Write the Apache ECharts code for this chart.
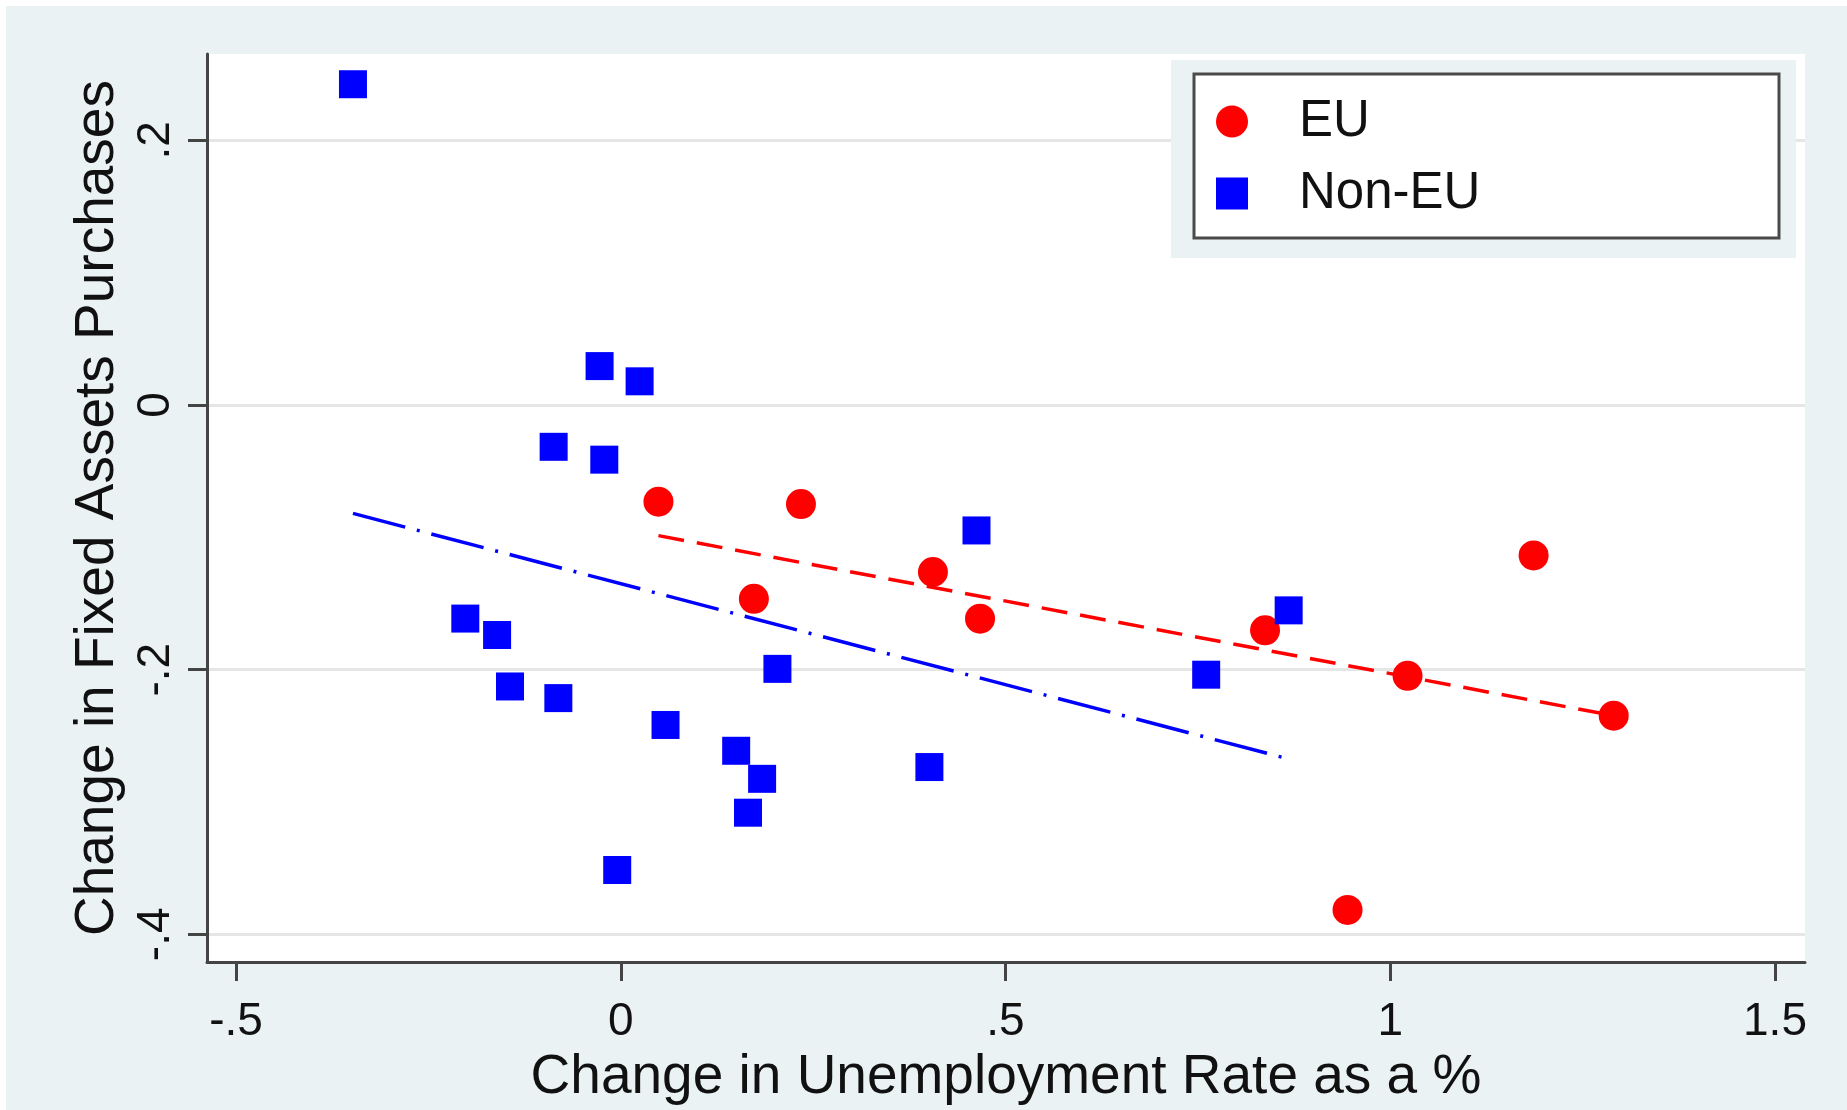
<!DOCTYPE html>
<html>
<head>
<meta charset="utf-8">
<title>Fixed Assets Purchases vs Unemployment</title>
<script src="https://cdn.jsdelivr.net/npm/echarts@6/dist/echarts.min.js"></script>
<style>
html, body { margin: 0; padding: 0; background: #fff; width: 1847px; height: 1110px; overflow: hidden; }
#chart { position: absolute; left: 6px; top: 6px; width: 1841px; height: 1104px; background: #eaf2f3; }
</style>
</head>
<body>
<div id="chart"></div>
<script>
// [change in unemployment rate (pp), change in fixed assets purchases]
const euPoints = [
  [0.049, -0.0731],
  [0.2342, -0.0749],
  [0.1730, -0.1465],
  [0.4057, -0.1262],
  [0.4669, -0.1615],
  [0.8373, -0.1703],
  [1.0225, -0.2047],
  [1.1863, -0.1137],
  [1.2904, -0.2348],
  [0.9445, -0.3816]
];
const nonEuPoints = [
  [-0.348, 0.2424],
  [-0.0275, 0.0294],
  [0.0245, 0.0179],
  [-0.0872, -0.0316],
  [-0.0214, -0.0413],
  [0.4623, -0.0948],
  [-0.2020, -0.1614],
  [-0.1607, -0.1738],
  [-0.1439, -0.2127],
  [-0.0811, -0.2215],
  [0.2036, -0.1994],
  [0.0582, -0.2418],
  [0.1500, -0.2613],
  [0.1837, -0.2825],
  [0.1654, -0.3081],
  [-0.0046, -0.3514],
  [0.4011, -0.2736],
  [0.7608, -0.2038],
  [0.8680, -0.1552]
];
// Linear fit lines (end points of the fitted values)
const euFit = [[0.049, -0.0987], [1.2904, -0.2348]];
const nonEuFit = [[-0.348, -0.0819], [0.868, -0.2675]];

const xTickValues = [-0.5, 0, 0.5, 1, 1.5];
const xTickLabels = ['-.5', '0', '.5', '1', '1.5'];
const yTickValues = [-0.4, -0.2, 0, 0.2];
const yTickLabels = ['-.4', '-.2', '0', '.2'];

const FONT = 'Liberation Sans, Arial, Helvetica, sans-serif';
const INK = '#111111';
const AXIS = '#444444';
const BG = '#eaf2f3';

function labelFor(values, labels) {
  return function (v) {
    for (let i = 0; i < values.length; i++) {
      if (Math.abs(values[i] - v) < 1e-9) return labels[i];
    }
    return '';
  };
}

const chart = echarts.init(document.getElementById('chart'), null, { renderer: 'canvas' });
chart.setOption({
  animation: false,
  backgroundColor: 'transparent',
  textStyle: { fontFamily: FONT },
  grid: {
    left: 201, top: 48, width: 1598, height: 915,
    show: true, backgroundColor: '#ffffff', borderWidth: 0
  },
  xAxis: {
    type: 'value',
    min: -0.53769, max: 1.53899,
    name: 'Change in Unemployment Rate as a %',
    nameLocation: 'middle',
    nameGap: 82,
    nameTextStyle: { fontSize: 55, color: INK, fontFamily: FONT },
    axisLine: { show: true, onZero: false, lineStyle: { color: AXIS, width: 3 } },
    axisTick: { show: true, customValues: xTickValues, length: 19, lineStyle: { color: AXIS, width: 3 } },
    axisLabel: {
      customValues: xTickValues, formatter: labelFor(xTickValues, xTickLabels),
      margin: 37, fontSize: 46, color: INK, fontFamily: FONT
    },
    splitLine: { show: false }
  },
  yAxis: {
    type: 'value',
    min: -0.421, max: 0.26525,
    name: 'Change in Fixed Assets Purchases',
    nameLocation: 'middle',
    nameGap: 82,
    nameRotate: 90,
    nameTextStyle: { fontSize: 55, color: INK, fontFamily: FONT },
    axisLine: { show: true, onZero: false, lineStyle: { color: AXIS, width: 3 } },
    axisTick: { show: true, customValues: yTickValues, length: 19, lineStyle: { color: AXIS, width: 3 } },
    axisLabel: {
      customValues: yTickValues, formatter: labelFor(yTickValues, yTickLabels),
      rotate: 90, margin: 28, fontSize: 46, color: INK, fontFamily: FONT
    },
    splitLine: { show: true, lineStyle: { color: '#e6e6e6', width: 3 } }
  },
  legend: {
    data: ['EU', 'Non-EU'],
    orient: 'vertical',
    left: 1210, top: 90,
    padding: 0,
    itemWidth: 32, itemHeight: 32, itemGap: 21,
    selectedMode: false,
    itemStyle: { opacity: 1 },
    textStyle: { fontSize: 51, color: INK, fontFamily: FONT, padding: [0, 0, 0, 46] }
  },
  graphic: [
    { type: 'rect', z: 3, silent: true,
      shape: { x: 1165, y: 54, width: 625, height: 198 },
      style: { fill: BG } },
    { type: 'rect', z: 3, silent: true,
      shape: { x: 1188, y: 68, width: 585, height: 164 },
      style: { fill: '#ffffff', stroke: '#4a4a4a', lineWidth: 3 } }
  ],
  series: [
    { type: 'line', name: 'EU fit', data: euFit, symbol: 'none', silent: true,
      lineStyle: { color: '#ff0000', width: 3.5, type: [26, 13] } },
    { type: 'line', name: 'Non-EU fit', data: nonEuFit, symbol: 'none', silent: true,
      lineStyle: { color: '#0000ff', width: 3.5, type: [54, 12, 3, 12] } },
    { type: 'scatter', name: 'EU', data: euPoints, symbol: 'circle', symbolSize: 30,
      itemStyle: { color: '#ff0000', opacity: 1 } },
    { type: 'scatter', name: 'Non-EU', data: nonEuPoints, symbol: 'rect', symbolSize: 28,
      itemStyle: { color: '#0000ff', opacity: 1 } }
  ]
});
</script>
</body>
</html>
